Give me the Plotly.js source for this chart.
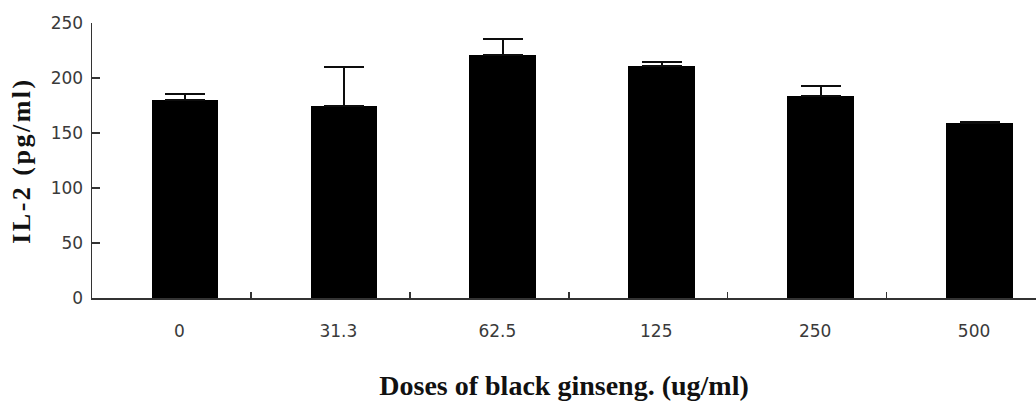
<!DOCTYPE html>
<html>
<head>
<meta charset="utf-8">
<script src="https://cdn.plot.ly/plotly-3.0.1.min.js"></script>
<style>html,body{margin:0;padding:0;background:#fff;}#chart{width:1036px;height:403px;}</style>
</head>
<body>
<div id="chart"></div>
<script>
const doses = ["0", "31.3", "62.5", "125", "250", "500"];
const il2 = [180, 175, 221, 211, 184, 159];
const il2Err = [5.5, 35, 14.5, 3.6, 9, 1.2];
const yTicks = [0, 50, 100, 150, 200, 250];

const trace = {
  type: "bar",
  x: doses,
  y: il2,
  width: 0.42,
  offset: -0.125,
  marker: {color: "#000000", line: {width: 0}},
  error_y: {type: "data", array: il2Err, arrayminus: il2Err.map(() => 0), symmetric: false,
            color: "#0d0d0d", thickness: 2, width: 20}
};

const tickFont = {family: "DejaVu Sans", size: 17, color: "#3a3a3a"};
const layout = {
  width: 1036, height: 403,
  margin: {l: 92, r: 0, t: 23, b: 105},
  paper_bgcolor: "#ffffff", plot_bgcolor: "#ffffff",
  showlegend: false,
  bargap: 0,
  xaxis: {
    type: "category",
    range: [-0.5, 5.44],
    showgrid: false, zeroline: false,
    showline: true, linecolor: "#333333", linewidth: 1.5,
    ticks: "inside", ticklen: 6, tickwidth: 1.5, tickcolor: "#333333",
    tickson: "boundaries",
    tickfont: tickFont,
    ticklabelstandoff: 17,
    ticklabelshift: 8,
    title: {text: "Doses of black ginseng. (ug/ml)",
            font: {family: "Liberation Serif", size: 28, color: "#111111", weight: "bold"},
            standoff: 35}
  },
  yaxis: {
    range: [0, 250],
    tickvals: yTicks,
    ticktext: yTicks.map(String),
    showgrid: false, zeroline: false,
    showline: true, linecolor: "#333333", linewidth: 1.5,
    ticks: "inside", ticklen: 8, tickwidth: 1.5, tickcolor: "#333333",
    tickfont: tickFont,
    ticklabelstandoff: 4,
    title: {text: '<span style="letter-spacing:2.5px">IL-2 (pg/ml)</span>',
            font: {family: "Liberation Serif", size: 26, color: "#111111", weight: "bold"},
            standoff: 12}
  }
};

Plotly.newPlot("chart", [trace], layout, {staticPlot: true, displayModeBar: false});
</script>
</body>
</html>
